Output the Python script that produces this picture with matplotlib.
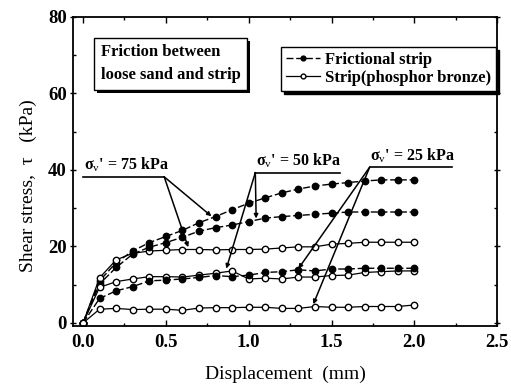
import matplotlib
matplotlib.use("Agg")
import matplotlib.pyplot as plt
from matplotlib.ticker import MultipleLocator
from matplotlib.patches import Rectangle

plt.rcParams['font.family'] = ['Liberation Serif', 'DejaVu Serif']
plt.rcParams['mathtext.fontset'] = 'custom'
plt.rcParams['mathtext.rm'] = 'Liberation Serif'
plt.rcParams['mathtext.it'] = 'Liberation Serif:italic'
plt.rcParams['mathtext.bf'] = 'Liberation Serif:bold'

# ---- data ----
disp = [0.0, 0.1, 0.2, 0.3, 0.4, 0.5, 0.6, 0.7, 0.8, 0.9, 1.0,
        1.1, 1.2, 1.3, 1.4, 1.5, 1.6, 1.7, 1.8, 1.9, 2.0]
fric_75 = [0, 11.0, 15.8, 18.8, 21.0, 22.6, 24.2, 26.2, 27.8, 29.6, 31.3,
           32.7, 34.0, 35.0, 35.8, 36.3, 36.7, 37.1, 37.4, 37.4, 37.4]
fric_50 = [0, 10.2, 14.5, 18.0, 19.8, 21.0, 22.4, 24.0, 24.9, 25.6, 26.5,
           27.4, 27.8, 28.1, 28.4, 28.7, 29.0, 29.0, 29.0, 29.0, 29.0]
fric_25 = [0, 6.4, 8.4, 9.5, 11.0, 11.2, 11.5, 11.9, 12.4, 12.1, 12.5,
           13.2, 13.4, 13.9, 13.6, 14.1, 14.1, 14.3, 14.3, 14.3, 14.3]
bronze_75 = [0, 11.8, 16.5, 18.2, 18.8, 19.0, 19.2, 19.2, 19.1, 19.2, 19.2,
             19.3, 19.6, 19.9, 19.9, 20.6, 20.8, 21.1, 21.1, 21.1, 21.1]
bronze_50 = [0, 9.3, 10.8, 11.5, 12.1, 12.1, 12.0, 12.5, 13.0, 13.6, 11.5,
             11.7, 11.5, 12.0, 12.0, 12.4, 12.5, 13.2, 13.4, 13.6, 13.6]
bronze_25 = [0, 3.6, 3.8, 3.5, 3.6, 3.6, 3.3, 3.9, 4.0, 4.0, 4.1,
             4.1, 3.8, 3.8, 4.3, 4.1, 4.1, 4.3, 4.3, 4.3, 4.7]

legend_labels = ["Frictional strip", "Strip(phosphor bronze)"]
stress_labels = ["75", "50", "25"]
xtick_vals = [0.0, 0.5, 1.0, 1.5, 2.0, 2.5]
xtick_labels = ["0.0", "0.5", "1.0", "1.5", "2.0", "2.5"]

fig = plt.figure(figsize=(5.11, 3.84), dpi=100)
ax = fig.add_axes([0.143, 0.151, 0.830, 0.805])

fill_kw = dict(color='black', linestyle=(0, (5, 2)), linewidth=1.0, marker='o',
               markersize=4.6, markerfacecolor='black', markeredgecolor='black')
hollow_kw = dict(color='black', linestyle='-', linewidth=0.9, marker='o',
                 markersize=4.6, markerfacecolor='white', markeredgecolor='black',
                 markeredgewidth=1.0)

ax.plot(disp, fric_75, label=legend_labels[0], **fill_kw)
ax.plot(disp, bronze_75, label=legend_labels[1], **hollow_kw)
ax.plot(disp, fric_50, **fill_kw)
ax.plot(disp, bronze_50, **hollow_kw)
ax.plot(disp, fric_25, **fill_kw)
ax.plot(disp, bronze_25, **hollow_kw)

ax.set_xlim(-0.06, 2.5)
ax.set_ylim(-0.8, 80)
ax.xaxis.set_minor_locator(MultipleLocator(0.25))
ax.yaxis.set_major_locator(MultipleLocator(20))
ax.yaxis.set_minor_locator(MultipleLocator(10))
ax.set_xticks(xtick_vals)
ax.set_xticklabels(xtick_labels)
ax.tick_params(which='both', direction='in', top=True, right=True,
               labelsize=13.5, width=1.0)
ax.tick_params(which='major', length=4)
ax.tick_params(which='minor', length=2.5)
ax.tick_params(axis='x', which='major', pad=6)
ax.tick_params(axis='y', which='major', direction='inout', length=5, pad=2)
for lab in ax.get_xticklabels() + ax.get_yticklabels():
    lab.set_fontweight('bold')
for s in ax.spines.values():
    s.set_linewidth(1.3)

ax.set_xlabel("Displacement  (mm)", fontsize=14, labelpad=10)
ax.set_ylabel("Shear stress,  τ   (kPa)", fontsize=14)
ax.yaxis.set_label_coords(-0.086, 0.453)

# legend with solid shadow
leg = ax.legend(loc='upper right', bbox_to_anchor=(0.997, 0.902), fontsize=12,
                frameon=True, fancybox=False, handlelength=2.0, handletextpad=0.3,
                borderpad=0.3, labelspacing=0.1, borderaxespad=0.0,
                shadow={'color': 'black', 'alpha': 1.0}, markerscale=0.75)
leg.get_frame().set_edgecolor('black')
leg.get_frame().set_linewidth(1.0)
for t in leg.get_texts():
    t.set_fontweight('bold')

# text box with solid shadow
box_text = "Friction between\nloose sand and strip"
tbox = ax.text(0.065, 0.848, box_text, transform=ax.transAxes, fontsize=12,
               fontweight='bold', va='center', ha='left', color='black',
               linespacing=1.6,
               bbox=dict(boxstyle='square,pad=0.4', facecolor='white',
                         edgecolor='black', linewidth=1.0),
               zorder=6)

# stress annotations
arrow_kw = dict(arrowstyle='-|>', color='black', lw=1.1, mutation_scale=6,
                shrinkA=0, shrinkB=0)

def sigma_label(x0, x1, y, val, targets, apex_x):
    ax.plot([x0, x1], [y, y], color='black', lw=1.2)
    ax.text(x0 + 0.005, y + 0.7, r"σ$_{\rm v}$' = " + val + " kPa", fontsize=11.5,
            fontweight='bold', ha='left', va='bottom')
    for tx, ty in targets:
        ax.annotate("", xy=(tx, ty), xytext=(apex_x, y), arrowprops=arrow_kw)

sigma_label(0.0, 0.49, 38.2, stress_labels[0], [(0.775, 27.9), (0.635, 19.8)], 0.49)
sigma_label(1.04, 1.55, 39.3, stress_labels[1], [(1.045, 27.3), (0.865, 14.2)], 1.04)
sigma_label(1.73, 2.23, 40.7, stress_labels[2], [(1.30, 14.2), (1.39, 4.9)], 1.73)

# shadow rectangle behind the text box
fig.canvas.draw()
bb = tbox.get_bbox_patch().get_window_extent()
inv = ax.transAxes.inverted()
(sx0, sy0), (sx1, sy1) = inv.transform([[bb.x0 + 3, bb.y0 - 3], [bb.x1 + 3, bb.y1 - 3]])
ax.add_patch(Rectangle((sx0, sy0), sx1 - sx0, sy1 - sy0, transform=ax.transAxes,
                       facecolor='black', edgecolor='none', zorder=5, clip_on=False))

fig.savefig("out.png", dpi=100)
